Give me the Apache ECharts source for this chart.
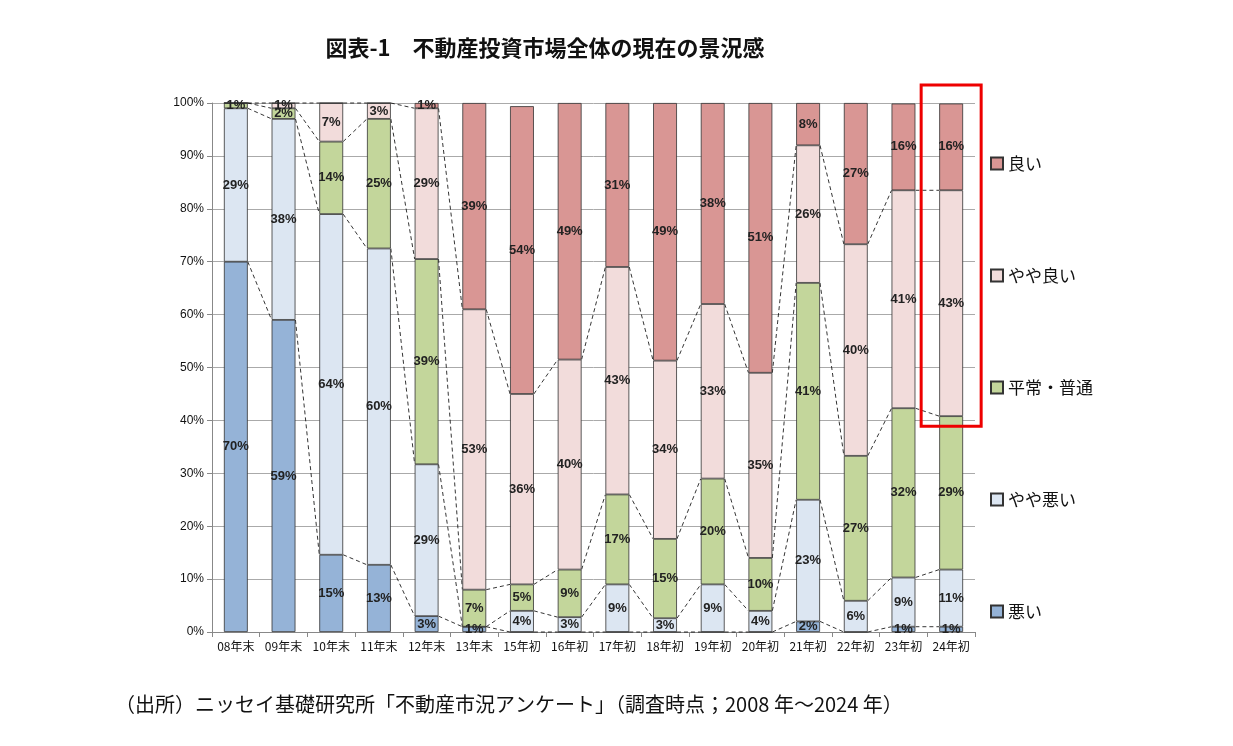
<!DOCTYPE html>
<html lang="ja">
<head>
<meta charset="UTF-8">
<script src="https://cdn.jsdelivr.net/npm/echarts@6/dist/echarts.min.js"></script>
</head>
<body style="margin:0;background:#fff">
<div id="main" style="width:1233px;height:746px;"></div>
<script>
  var cats = ['08年末','09年末','10年末','11年末','12年末','13年末','15年初','16年初','17年初','18年初','19年初','20年初','21年初','22年初','23年初','24年初'];
  var bad        = [70,59,14.6,12.7, 3, 1, 0, 0, 0, 0, 0, 0, 2, 0, 1, 1];
  var ratherBad  = [29,38,64.4,59.8,28.7, 0, 4, 2.8, 9, 2.6, 9, 4,23, 5.9, 9.3,10.8];
  var normal     = [ 1, 2,13.7,24.5,38.8, 7, 5, 9,17,15,20,10,41,27.4,32,29];
  var ratherGood = [ 0, 1, 7.3, 3,28.5,53,36,39.7,43,33.7,33,35,26,40,41.2,42.7];
  var good       = [ 0, 0, 0, 0, 1,39,54.4,48.5,31,48.7,38,51, 8,26.7,16.4,16.4];
  var names = ['悪い','やや悪い','平常・普通','やや良い','良い'];
  var colors = ['#95b3d7','#dce6f2','#c3d69b','#f2dcdb','#d99694'];
  var all = [bad, ratherBad, normal, ratherGood, good];

  var chart = echarts.init(document.getElementById('main'));
  var font = '"Noto Sans CJK JP", sans-serif';

  var series = [];
  for (var s = 0; s < 5; s++) {
    series.push({
      name: names[s], type: 'bar', stack: 'a', barWidth: '50%',
      data: all[s],
      itemStyle: {color: colors[s], borderColor: '#333', borderWidth: 0.8},
      label: {show: true, position: 'inside', fontWeight: 'bold', fontSize: 13, color: '#222', fontFamily: 'Arial',
        formatter: function (p) { return p.value > 0 ? Math.round(p.value) + '%' : ''; }}
    });
  }
  // dashed connector lines between boundaries
  var conn = [];
  for (var k = 0; k < 4; k++) {
    for (var i = 0; i < cats.length - 1; i++) {
      var a = 0, b = 0;
      for (var j = 0; j <= k; j++) { a += all[j][i]; b += all[j][i + 1]; }
      conn.push([i, Math.min(a, 100), Math.min(b, 100)]);
    }
  }
  series.push({
    type: 'custom', silent: true, data: conn, z: 1,
    renderItem: function (params, api) {
      var bw = api.size([1, 0])[0] * 0.25;
      var p1 = api.coord([api.value(0), api.value(1)]);
      var p2 = api.coord([api.value(0) + 1, api.value(2)]);
      return {type: 'line', shape: {x1: p1[0] + bw, y1: p1[1], x2: p2[0] - bw, y2: p2[1]},
        style: {stroke: '#000', lineWidth: 0.8, lineDash: [4, 3]}};
    }
  });

  var last = cats.length - 1;
  chart.setOption({
    animation: false,
    title: {text: '図表-1　不動産投資市場全体の現在の景況感', left: 540, textAlign: 'center', top: 32,
      textStyle: {fontFamily: font, fontSize: 22, fontWeight: 'bold', color: '#111'}},
    grid: {left: 212, right: 258, top: 103, bottom: 114},
    legend: {data: names.slice().reverse(), orient: 'vertical', left: 985, top: 150, itemGap: 95,
      itemWidth: 12, itemHeight: 12, icon: 'rect',
      textStyle: {fontFamily: font, fontSize: 17, color: '#111'}},
    xAxis: {type: 'category', data: cats,
      axisLine: {lineStyle: {color: '#888'}}, axisTick: {show: true, lineStyle: {color: '#888'}},
      axisLabel: {fontFamily: font, fontSize: 12, color: '#111', interval: 0}},
    yAxis: {type: 'value', min: 0, max: 100, interval: 10,
      axisLine: {show: true, lineStyle: {color: '#888'}}, axisTick: {show: true},
      axisLabel: {formatter: '{value}%', fontFamily: 'Arial', fontSize: 12, color: '#111'},
      splitLine: {lineStyle: {color: '#aaa'}}},
    series: series
  });

  // red frame around latest bar's upper part, and source note
  var pTop = chart.convertToPixel({gridIndex: 0}, [last, 100]);
  var pBot = chart.convertToPixel({gridIndex: 0}, [last, bad[last] + ratherBad[last] + normal[last]]);
  chart.setOption({graphic: [
    {type: 'text', left: 115, top: 694, style: {text: '（出所）ニッセイ基礎研究所「不動産市況アンケート」（調査時点；2008 年～2024 年）',
      fontSize: 20, fontFamily: font, fill: '#111'}},
    {type: 'rect', shape: {x: pTop[0] - 30, y: pTop[1] - 18, width: 60, height: pBot[1] - pTop[1] + 28},
      style: {fill: 'none', stroke: '#e00', lineWidth: 3}, z: 100}]});
</script>
</body>
</html>
